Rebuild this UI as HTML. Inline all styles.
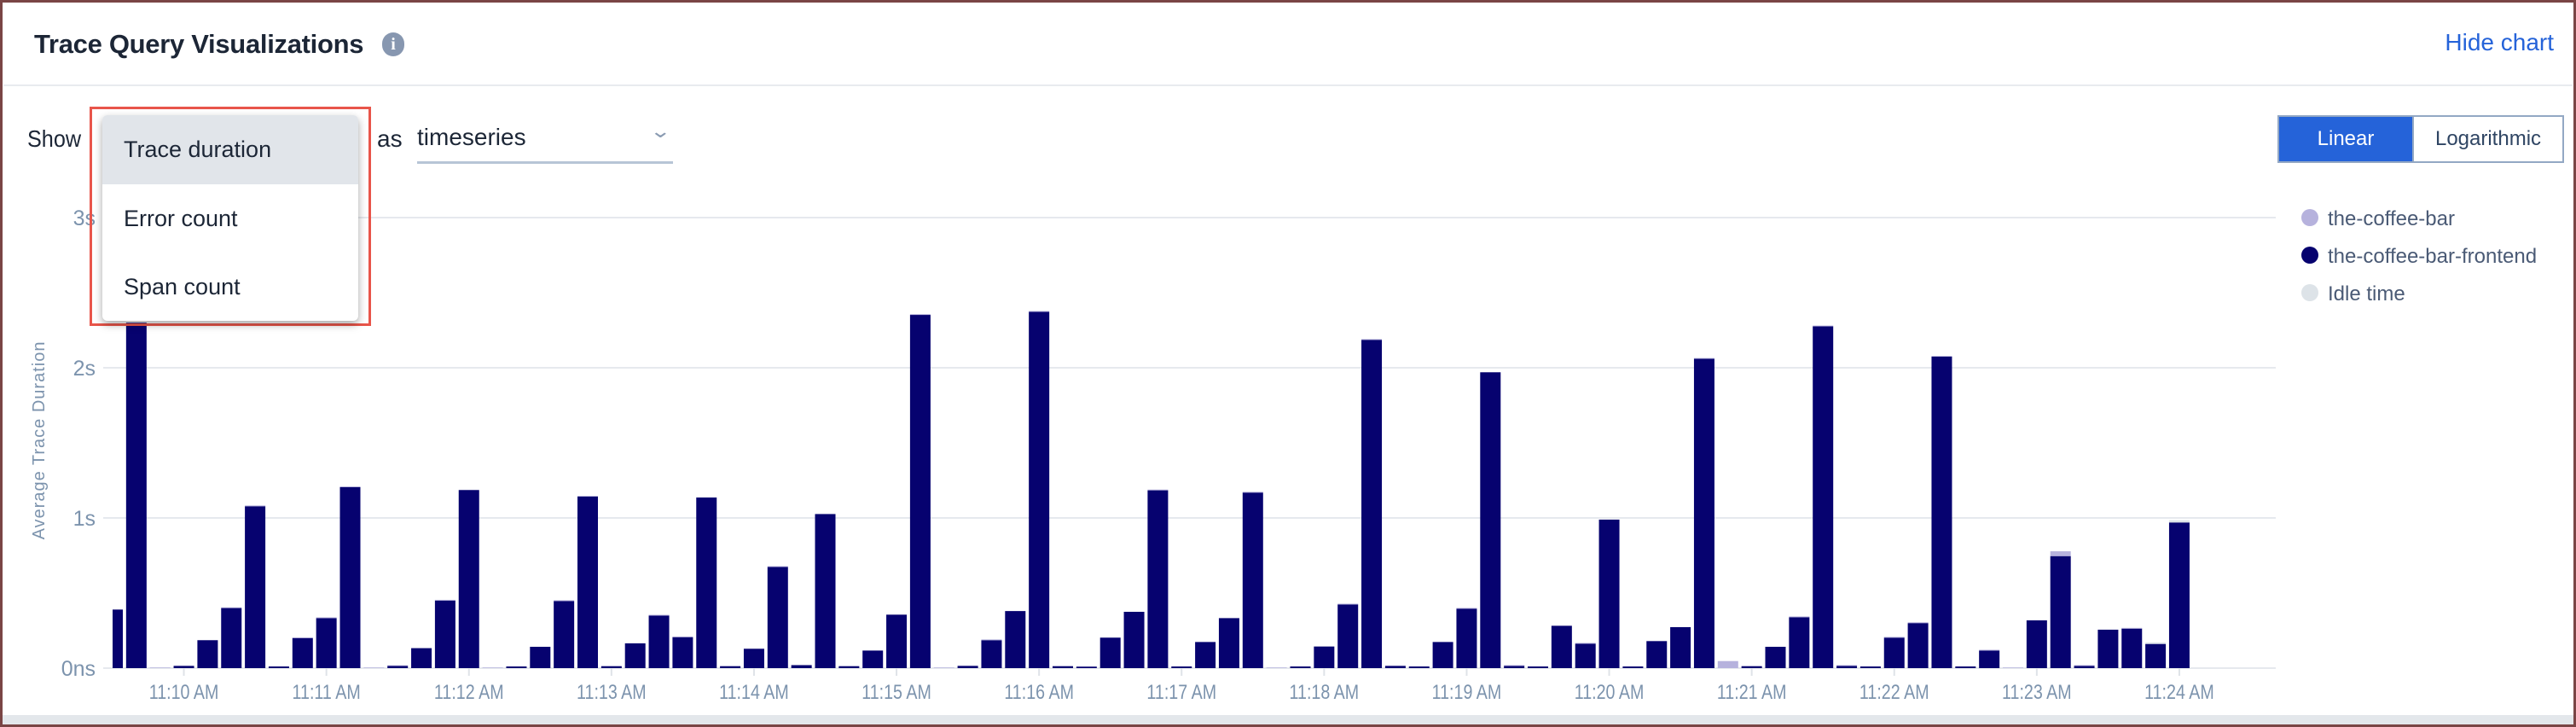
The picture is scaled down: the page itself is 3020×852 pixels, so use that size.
<!DOCTYPE html>
<html><head><meta charset="utf-8"><style>
html,body{margin:0;padding:0;width:3020px;height:852px;overflow:hidden;background:#fff;font-family:"Liberation Sans",sans-serif;}
#frame{position:absolute;left:0;top:0;width:3014px;height:846px;border:3px solid #7a4545;background:#fff;}
.abs{position:absolute;}
</style></head><body>
<div id="frame"></div>
<div class="abs" style="left:40px;top:34px;font-size:31px;color:#1c2636;font-weight:bold;letter-spacing:-0.3px;">Trace Query Visualizations</div>
<div class="abs" style="left:448px;top:38px;width:26px;height:28px;border-radius:13px;background:#8797b0;color:#fff;font-weight:bold;font-size:20px;text-align:center;line-height:28px;font-family:'Liberation Serif',serif;">i</div>
<div class="abs" style="right:26px;top:34px;font-size:28px;color:#2563d9;">Hide chart</div>
<div class="abs" style="left:4px;top:99px;width:3012px;height:2px;background:#e8ebef;"></div>
<div class="abs" style="left:32px;top:147px;font-size:28px;color:#1c2636;transform:scaleX(0.9);transform-origin:left;">Show</div>
<div class="abs" style="left:442px;top:147px;font-size:28px;color:#1c2636;">as</div>
<div class="abs" style="left:489px;top:145px;width:300px;height:44px;border-bottom:3px solid #b7c5d6;font-size:28px;color:#1c2636;transform-origin:left;">timeseries<span style="position:absolute;right:6px;top:-4px;color:#8a9bb2;font-size:22px;transform:scaleX(1.4);">&#8964;</span></div>
<div class="abs" style="left:2670px;top:135px;width:156px;height:52px;background:#2563d9;border:2px solid #93a8c4;color:#fff;font-size:24px;text-align:center;line-height:52px;">Linear</div>
<div class="abs" style="left:2828px;top:135px;width:174px;height:52px;background:#fff;border:2px solid #93a8c4;color:#2f4563;font-size:24px;text-align:center;line-height:52px;">Logarithmic</div>
<svg class="abs" style="left:0;top:0" width="3020" height="852" id="chart"></svg>
<div class="abs" style="left:105px;top:125px;width:324px;height:251px;border:3px solid #e8554a;"></div>
<div class="abs" style="left:120px;top:135px;width:300px;height:241px;background:#fff;border-radius:6px;box-shadow:0 4px 10px rgba(0,0,0,0.35);overflow:hidden;font-size:27px;color:#1c2636;">
<div style="height:81px;background:#e1e5ea;padding-left:25px;line-height:81px;">Trace duration</div>
<div style="height:80px;padding-left:25px;line-height:80px;">Error count</div>
<div style="height:80px;padding-left:25px;line-height:80px;">Span count</div>
</div>
<div class="abs" style="left:3px;top:838px;width:3014px;height:11px;background:#e3e7eb;"></div>
<script>
const frontend=[0.39,2.3,0,0.015,0.186,0.40,1.078,0.011,0.20,0.333,1.205,0,0.015,0.133,0.45,1.186,0,0.011,0.142,0.447,1.142,0.013,0.165,0.35,0.206,1.136,0.013,0.129,0.674,0.02,1.026,0.013,0.117,0.356,2.352,0,0.015,0.186,0.38,2.373,0.013,0.01,0.203,0.375,1.184,0.011,0.174,0.333,1.169,0,0.011,0.144,0.424,2.186,0.015,0.011,0.174,0.396,1.97,0.015,0.011,0.282,0.163,0.989,0.011,0.18,0.273,2.06,0,0.013,0.142,0.339,2.276,0.015,0.011,0.203,0.30,2.074,0.011,0.117,0,0.318,0.746,0.015,0.256,0.263,0.161,0.97];
const coffeeBar=[0,0,0.004,0,0,0.005,0.005,0,0.005,0.005,0.005,0.004,0.004,0,0.005,0,0.004,0,0,0.005,0.005,0,0,0.005,0.005,0,0,0,0.005,0,0,0,0,0,0.005,0.004,0,0.005,0,0.005,0,0,0,0,0.005,0,0,0,0.005,0.004,0,0,0.005,0.005,0,0,0,0.005,0,0.005,0,0,0.005,0,0,0,0,0.005,0.047,0,0,0.005,0.005,0.005,0,0.005,0.005,0.005,0,0.005,0.004,0,0.032,0.005,0,0.005,0,0];
const idle=[0,0,0,0,0,0,0,0,0,0,0,0,0,0,0,0,0,0,0,0,0,0,0,0,0,0,0,0,0,0,0,0,0,0,0,0,0,0,0,0,0,0,0,0,0,0,0,0,0,0,0,0,0,0,0,0,0,0,0,0,0,0,0,0,0,0,0,0,0,0,0,0,0,0,0,0,0,0,0,0,0,0,0,0,0,0,0.01,0.015];
const yTicks=[0,1,2,3];
const yTickLabels=["0ns","1s","2s","3s"];
const xTickSlots=[3,9,15,21,27,33,39,45,51,57,63,69,75,81,87];
const xTickLabels=["11:10 AM","11:11 AM","11:12 AM","11:13 AM","11:14 AM","11:15 AM","11:16 AM","11:17 AM","11:18 AM","11:19 AM","11:20 AM","11:21 AM","11:22 AM","11:23 AM","11:24 AM"];
const legendNames=["the-coffee-bar","the-coffee-bar-frontend","Idle time"];
const legendColors=["#b6b2dd","#06026f","#dde3e8"];

const NS="http://www.w3.org/2000/svg";
const svg=document.getElementById('chart');
const plotL=121,plotR=2668,base=783,pxPerS=176,x0=132,pitch=27.85,bw=24;
const X=i=>x0+pitch*i;
const Y=v=>base-v*pxPerS;
function mk(t,a){const e=document.createElementNS(NS,t);for(const k in a)e.setAttribute(k,a[k]);svg.appendChild(e);return e;}
const defs=mk('defs',{});
const cp=document.createElementNS(NS,'clipPath');cp.setAttribute('id','clip');
const cr=document.createElementNS(NS,'rect');cr.setAttribute('x',132);cr.setAttribute('y',0);cr.setAttribute('width',plotR-132);cr.setAttribute('height',base);
cp.appendChild(cr);defs.appendChild(cp);
yTicks.forEach((v,k)=>{
 const g=mk('line',{x1:plotL,x2:plotR,y1:Y(v),y2:Y(v),stroke:'#e6e9ee','stroke-width':2});
 
 
 const t=mk('text',{x:112,y:Y(v)+9,'text-anchor':'end','font-size':25,fill:'#7c93ad'});
 t.textContent=yTickLabels[k];
 
 
});
const yt=mk('text',{x:0,y:0,transform:'translate(52,516) rotate(-90)','text-anchor':'middle','font-size':20,fill:'#7c93ad','letter-spacing':1});
yt.textContent='Average Trace Duration';


const bars=mk('g',{'clip-path':'url(#clip)'});
frontend.forEach((v,i)=>{
 const x=X(i)-bw/2;
 const h=Math.max(v*pxPerS,0);
 const c=(coffeeBar[i]||0)*pxPerS, d=(idle[i]||0)*pxPerS;
 const r=document.createElementNS(NS,'rect');
 r.setAttribute('x',x);r.setAttribute('y',base-h);r.setAttribute('width',bw);r.setAttribute('height',h);r.setAttribute('fill','#06026f');
 
 
 bars.appendChild(r);
 if(c>0){const r2=document.createElementNS(NS,'rect');
 r2.setAttribute('x',x);r2.setAttribute('y',base-h-c);r2.setAttribute('width',bw);r2.setAttribute('height',c);r2.setAttribute('fill','#b6b2dd');
 
 
 bars.appendChild(r2);}
 if(d>0){const r3=document.createElementNS(NS,'rect');
 r3.setAttribute('x',x);r3.setAttribute('y',base-h-c-d);r3.setAttribute('width',bw);r3.setAttribute('height',d);r3.setAttribute('fill','#dde3e8');
 
 
 bars.appendChild(r3);}
});
xTickSlots.forEach((s,k)=>{
 const l=mk('line',{x1:X(s),x2:X(s),y1:base,y2:base+9,stroke:'#dfe3e8','stroke-width':2});
 
 
 const t=mk('text',{x:0,y:0,transform:`translate(${X(s)},819) scale(0.82,1)`,'text-anchor':'middle','font-size':24,fill:'#7c93ad'});
 t.textContent=xTickLabels[k];
 
 
});
legendNames.forEach((n,k)=>{
 const y=255+k*44;
 const c=mk('circle',{cx:2708,cy:y,r:10,fill:legendColors[k]});
 
 
 const t=mk('text',{x:2729,y:y+9,'font-size':24,fill:'#4a5a75'});
 t.textContent=n;
 
 
});
</script>
</body></html>
